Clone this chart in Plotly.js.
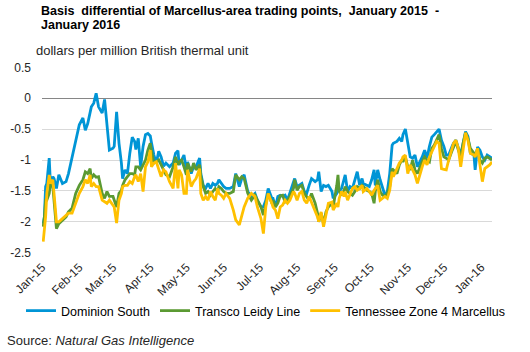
<!DOCTYPE html>
<html>
<head>
<meta charset="utf-8">
<script src="https://cdn.plot.ly/plotly-3.0.1.min.js"></script>
<style>
html,body{margin:0;padding:0;background:#fff;}
#chart{width:530px;height:352px;}
</style>
</head>
<body>
<div id="chart"></div>
<script>
var dates = [
'2015-01-02','2015-01-03','2015-01-04','2015-01-05','2015-01-07','2015-01-08','2015-01-10','2015-01-11','2015-01-13','2015-01-15',
'2015-01-18','2015-01-21','2015-01-23','2015-01-26','2015-01-29','2015-02-01','2015-02-04','2015-02-06','2015-02-08','2015-02-10',
'2015-02-11','2015-02-13','2015-02-15','2015-02-17','2015-02-20','2015-02-22','2015-02-24','2015-02-26','2015-03-01','2015-03-02',
'2015-03-04','2015-03-06','2015-03-08','2015-03-09','2015-03-11','2015-03-13','2015-03-15','2015-03-17','2015-03-19','2015-03-20',
'2015-03-22','2015-03-24','2015-03-26','2015-03-28','2015-03-30','2015-04-01','2015-04-02','2015-04-04','2015-04-06','2015-04-08',
'2015-04-10','2015-04-12','2015-04-14','2015-04-17','2015-04-20','2015-04-22','2015-04-24','2015-04-25','2015-04-27','2015-04-29',
'2015-05-01','2015-05-02','2015-05-05','2015-05-07','2015-05-09','2015-05-12','2015-05-13','2015-05-15','2015-05-17','2015-05-19',
'2015-05-21','2015-05-23','2015-05-25','2015-05-27','2015-05-28','2015-05-30','2015-06-01','2015-06-03','2015-06-06','2015-06-09',
'2015-06-11','2015-06-14','2015-06-16','2015-06-18','2015-06-21','2015-06-24','2015-06-27','2015-06-29','2015-07-02',
'2015-07-04','2015-07-06','2015-07-08','2015-07-11','2015-07-12','2015-07-14','2015-07-16','2015-07-18','2015-07-20','2015-07-22',
'2015-07-24','2015-07-26','2015-07-29','2015-07-30','2015-08-01','2015-08-03','2015-08-05','2015-08-07','2015-08-09','2015-08-11',
'2015-08-13','2015-08-16','2015-08-18','2015-08-19','2015-08-21','2015-08-23','2015-08-25','2015-08-27','2015-08-30','2015-08-31',
'2015-09-03','2015-09-04','2015-09-05','2015-09-07','2015-09-09','2015-09-10','2015-09-12','2015-09-14','2015-09-16','2015-09-18',
'2015-09-20','2015-09-22','2015-09-24','2015-09-25','2015-09-28','2015-09-30','2015-10-02','2015-10-04','2015-10-05','2015-10-07',
'2015-10-09','2015-10-11','2015-10-13','2015-10-15','2015-10-17','2015-10-19','2015-10-20','2015-10-23','2015-10-25','2015-10-27',
'2015-10-28','2015-10-30','2015-11-01','2015-11-03','2015-11-05','2015-11-07','2015-11-09','2015-11-11','2015-11-13','2015-11-15',
'2015-11-17','2015-11-19','2015-11-21','2015-11-23','2015-11-25','2015-11-27','2015-11-29','2015-12-01','2015-12-03','2015-12-05',
'2015-12-08','2015-12-09','2015-12-11','2015-12-13','2015-12-15','2015-12-17','2015-12-19','2015-12-21','2015-12-23','2015-12-26',
'2015-12-27','2015-12-29','2015-12-31','2016-01-02','2016-01-04','2016-01-06','2016-01-08','2016-01-10'
];

var dominionSouth = [
-2.03,-1.92,-1.43,-1.38,-0.97,-1.38,-1.27,-1.30,-1.46,-1.24,
-1.38,-1.35,-1.22,-0.95,-0.73,-0.43,-0.32,-0.52,-0.41,-0.22,
-0.14,-0.08,0.08,-0.14,-0.24,-0.02,-0.46,-0.84,-0.81,-0.78,
-0.22,-0.73,-1.05,-1.30,-1.16,-1.22,-0.89,-0.63,-0.70,-0.83,
-0.65,-1.11,-0.78,-0.59,-0.57,-0.61,-0.72,-0.92,-1.05,-0.86,
-0.95,-1.10,-1.05,-1.11,-1.05,-0.89,-0.85,-1.08,-1.00,-0.92,
-1.16,-1.03,-1.22,-1.11,-1.11,-0.97,-1.22,-1.41,-1.46,-1.38,
-1.46,-1.38,-1.41,-1.37,-1.32,-1.38,-1.43,-1.46,-1.46,-1.43,
-1.22,-1.43,-1.30,-1.24,-1.51,-1.59,-1.54,-1.65,-1.76,
-1.76,-1.65,-1.46,-1.62,-1.62,-1.76,-1.59,-1.57,-1.59,-1.57,
-1.65,-1.54,-1.38,-1.30,-1.43,-1.41,-1.38,-1.51,-1.54,-1.41,
-1.30,-1.35,-1.32,-1.19,-1.51,-1.41,-1.43,-1.41,-1.51,-1.62,
-1.54,-1.41,-1.51,-1.46,-1.32,-1.24,-1.51,-1.43,-1.46,-1.32,
-1.19,-1.41,-1.30,-1.38,-1.41,-1.43,-1.32,-1.16,-1.41,-1.16,
-1.32,-1.46,-1.57,-1.51,-1.22,-0.76,-0.73,-0.70,-0.65,-0.70,
-0.59,-0.50,-0.76,-0.95,-0.97,-0.92,-1.11,-1.03,-0.95,-0.84,
-0.97,-0.78,-0.63,-0.59,-0.54,-0.50,-0.68,-0.78,-0.92,-0.92,
-0.77,-0.73,-0.68,-0.81,-0.92,-0.73,-0.54,-0.62,-0.89,-0.92,
-1.16,-0.79,-0.84,-0.95,-1.00,-0.92,-0.95,-0.97
];

var transcoLeidy = [
-2.08,-1.92,-1.65,-1.65,-1.54,-1.38,-1.43,-1.70,-2.11,-2.03,
-1.97,-1.92,-1.84,-1.78,-1.54,-1.41,-1.32,-1.19,-1.22,-1.14,
-1.30,-1.24,-1.28,-1.27,-1.54,-1.62,-1.51,-1.59,-1.59,-1.65,
-1.76,-1.54,-1.49,-1.41,-1.32,-1.27,-1.22,-1.22,-1.24,-1.11,
-1.11,-1.16,-1.08,-1.00,-0.84,-0.73,-0.86,-1.05,-1.03,-1.00,
-1.08,-1.16,-1.24,-1.27,-1.11,-0.95,-1.08,-1.03,-1.00,-1.11,
-1.24,-1.05,-1.19,-1.05,-1.16,-1.08,-1.27,-1.43,-1.54,-1.51,
-1.57,-1.51,-1.46,-1.51,-1.43,-1.46,-1.51,-1.54,-1.54,-1.51,
-1.24,-1.32,-1.27,-1.30,-1.54,-1.65,-1.57,-1.65,-1.76,
-1.89,-1.70,-1.54,-1.70,-1.65,-1.76,-1.70,-1.58,-1.57,-1.68,
-1.65,-1.59,-1.46,-1.32,-1.49,-1.43,-1.41,-1.54,-1.59,-1.65,
-1.54,-1.70,-1.86,-2.00,-1.86,-2.03,-1.84,-1.76,-1.70,-1.76,
-1.41,-1.24,-1.51,-1.57,-1.49,-1.43,-1.51,-1.54,-1.57,-1.51,
-1.43,-1.46,-1.41,-1.43,-1.49,-1.51,-1.54,-1.70,-1.51,-1.32,
-1.51,-1.57,-1.59,-1.54,-1.43,-1.14,-1.16,-1.22,-1.08,-1.00,
-1.03,-0.95,-1.11,-1.16,-1.00,-1.16,-1.22,-1.11,-1.03,-0.95,
-1.00,-1.03,-0.81,-0.76,-0.68,-0.59,-0.81,-0.95,-0.97,-1.00,
-0.84,-0.78,-0.70,-0.84,-0.95,-0.73,-0.56,-0.65,-0.81,-0.89,
-0.95,-0.81,-1.00,-1.05,-0.97,-0.95,-0.97,-1.00
];

var tennesseeZ4 = [
-2.32,-2.14,-1.92,-1.54,-1.24,-1.38,-1.32,-1.54,-2.00,-2.00,
-1.95,-1.89,-1.86,-1.86,-1.70,-1.54,-1.43,-1.32,-1.38,-1.24,
-1.43,-1.38,-1.43,-1.43,-1.65,-1.68,-1.70,-1.65,-1.73,-1.76,
-2.02,-1.65,-1.54,-1.43,-1.41,-1.41,-1.35,-1.38,-1.27,-1.24,
-1.35,-1.22,-1.51,-1.11,-1.03,-0.84,-1.11,-1.05,-1.03,-1.14,
-1.27,-1.16,-1.19,-1.35,-1.46,-1.05,-1.46,-1.16,-1.24,-1.54,
-1.54,-1.16,-1.43,-1.35,-1.30,-1.14,-1.54,-1.65,-1.59,-1.65,
-1.51,-1.59,-1.65,-1.46,-1.54,-1.57,-1.62,-1.54,-1.62,-1.81,
-1.97,-2.05,-1.89,-1.76,-1.62,-1.54,-1.59,-1.76,-1.95,
-2.19,-1.76,-1.54,-1.70,-1.76,-1.81,-1.95,-1.76,-1.73,-1.65,
-1.70,-1.65,-1.51,-1.54,-1.65,-1.54,-1.51,-1.65,-1.70,-1.59,
-1.68,-1.84,-1.92,-2.00,-1.84,-2.08,-1.89,-1.70,-1.68,-1.81,
-1.70,-1.76,-1.62,-1.51,-1.59,-1.51,-1.65,-1.54,-1.46,-1.43,
-1.49,-1.46,-1.41,-1.51,-1.46,-1.51,-1.57,-1.49,-1.46,-1.41,
-1.65,-1.62,-1.59,-1.62,-1.49,-1.19,-1.27,-1.14,-1.05,-1.00,
-0.95,-0.92,-1.22,-1.08,-1.16,-1.24,-1.38,-1.22,-1.11,-1.00,
-1.08,-0.95,-0.86,-0.78,-0.70,-0.73,-1.14,-1.15,-1.16,-1.00,
-0.78,-0.73,-0.68,-0.81,-1.11,-0.81,-0.56,-0.68,-0.89,-0.92,
-0.95,-0.81,-1.05,-1.35,-1.14,-1.11,-1.08,-1.03
];

var seriesNames = ['Dominion South', 'Transco Leidy Line', 'Tennessee Zone 4 Marcellus'];
var yTickVals = [0.5, 0, -0.5, -1, -1.5, -2, -2.5];
var yTickText = ['0.5', '0', '-0.5', '-1', '-1.5', '-2', '-2.5'];
var titleLines = ['Basis  differential of Marcellus-area trading points,  January 2015  -', 'January 2016'];
var unitText = 'dollars per million British thermal unit';
var sourceText = 'Source: <i>Natural Gas Intelligence</i>';

var colors = ['#0095D6', '#5B9A33', '#FFC000'];
var seriesData = [dominionSouth, transcoLeidy, tennesseeZ4];
var font = 'Liberation Sans, Arial, sans-serif';

var traces = seriesData.map(function (vals, i) {
  return {
    type: 'scatter', mode: 'lines', x: dates, y: vals, name: seriesNames[i],
    line: {color: colors[i], width: 2.8}, hoverinfo: 'skip'
  };
});

// pixel -> paper helpers for the 450x186 plot area (left 42, top 67)
function px(x) { return (x - 42) / 450; }
function py(y) { return (253 - y) / 186; }

var layout = {
  width: 530, height: 352,
  margin: {l: 42, r: 38, t: 67, b: 99},
  paper_bgcolor: '#fff', plot_bgcolor: '#fff',
  font: {family: font, size: 12, color: '#262626'},
  xaxis: {
    type: 'date', range: ['2015-01-01', '2016-01-10'],
    tick0: '2015-01-01', dtick: 'M1', tickformat: '%b-%y', tickangle: -45,
    showgrid: false, zeroline: false, showline: false, ticks: '',
    ticklabelstandoff: 4,
    tickfont: {family: font, size: 12, color: '#262626'}
  },
  yaxis: {
    range: [-2.505, 0.505], tickvals: yTickVals, ticktext: yTickText,
    showgrid: true, gridcolor: '#d9d9d9', gridwidth: 1,
    zeroline: true, zerolinecolor: '#868686', zerolinewidth: 1,
    showline: false, ticks: '', ticklabelstandoff: 10,
    tickfont: {family: font, size: 12, color: '#262626'}
  },
  showlegend: true,
  legend: {orientation: 'h', xref: 'paper', yref: 'paper',
           x: px(21), xanchor: 'left', y: py(311), yanchor: 'middle',
           itemgap: 0, font: {family: font, size: 12.5, color: '#000'},
           bgcolor: 'rgba(0,0,0,0)', itemwidth: 30},
  annotations: [
    {text: '<b>' + titleLines[0] + '</b>', xref: 'paper', yref: 'paper', x: px(39), y: py(11),
     xanchor: 'left', yanchor: 'middle', showarrow: false,
     font: {family: font, size: 12.5, color: '#000'}},
    {text: '<b>' + titleLines[1] + '</b>', xref: 'paper', yref: 'paper', x: px(39), y: py(25),
     xanchor: 'left', yanchor: 'middle', showarrow: false,
     font: {family: font, size: 12.5, color: '#000'}},
    {text: unitText, xref: 'paper', yref: 'paper', x: px(34), y: py(50),
     xanchor: 'left', yanchor: 'middle', showarrow: false,
     font: {family: font, size: 13, color: '#262626'}},
    {text: sourceText, xref: 'paper', yref: 'paper', x: px(5), y: py(340),
     xanchor: 'left', yanchor: 'middle', showarrow: false,
     font: {family: font, size: 13, color: '#262626'}}
  ]
};

Plotly.newPlot('chart', traces, layout, {displayModeBar: false, staticPlot: true});
</script>
</body>
</html>
